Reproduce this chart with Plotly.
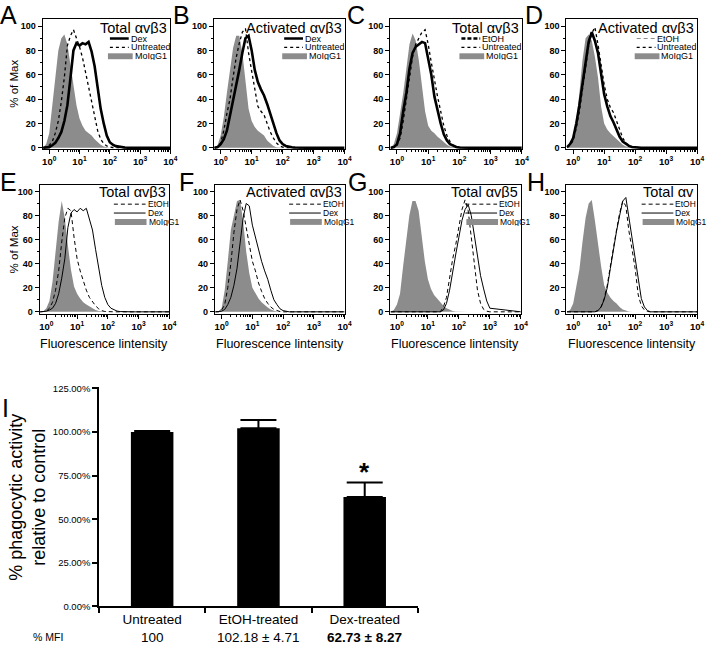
import plotly.graph_objects as go

W, H = 712, 646
FONT = "Liberation Sans, Arial, Helvetica, sans-serif"

# ---------------- data (log10 fluorescence grid, % of max) ----------------
LOG_GRID = [-0.2, -0.1, 0.0, 0.1, 0.2, 0.3, 0.4, 0.5, 0.6, 0.7,
            0.8, 0.9, 1.0, 1.1, 1.2, 1.3, 1.4, 1.5, 1.6, 1.7,
            1.8, 1.9, 2.0, 2.1, 2.2, 2.3, 2.4, 2.5, 2.6, 2.7,
            2.8, 2.9, 3.0, 4.0]

A_GRAY = [0, 3, 12, 35, 62, 80, 90, 93, 85, 68,
          52, 35, 24, 18, 14, 12, 10, 7, 4.5, 2.5,
          1, 0.3, 0, 0, 0, 0, 0, 0, 0, 0, 0, 0, 0, 0]
A_UNTR = [0, 0.5, 2, 5, 12, 22, 38, 58, 84, 92,
          97, 90, 83, 74, 62, 48, 36, 24, 14, 7,
          3.5, 1.5, 0.5, 0.2, 0, 0, 0, 0, 0, 0, 0, 0, 0, 0]
A_DEX = [0, 0, 0.5, 2, 4, 8, 13, 22, 35, 57,
         80, 86, 84, 86, 85, 87, 79, 67, 48, 32,
         20, 10, 4.5, 2.5, 1.3, 0.8, 0.4, 0.2, 0, 0, 0, 0, 0, 0]

B_GRAY = [0, 2, 10, 25, 45, 65, 82, 92, 92, 78,
          52, 32, 22, 17, 14, 12, 10, 6, 3.5, 1.5,
          0.5, 0.2, 0, 0, 0, 0, 0, 0, 0, 0, 0, 0, 0, 0]
B_UNTR = [0, 0.5, 4, 14, 28, 40, 58, 74, 86, 95,
          98, 78, 63, 47, 34, 30, 27, 20, 13, 8,
          4, 1.5, 0.5, 0.2, 0, 0, 0, 0, 0, 0, 0, 0, 0, 0]
B_DEX = [0, 0.5, 3, 7, 14, 26, 40, 52, 64, 78,
         90, 92, 80, 64, 54, 48, 43, 36, 28, 19,
         12, 6, 3, 1.5, 0.8, 0.4, 0.2, 0, 0, 0, 0, 0, 0, 0]

C_GRAY = [0, 3, 12, 28, 45, 65, 85, 94, 88, 72,
          52, 30, 18, 14, 12, 9, 7, 4.5, 2.5, 1,
          0.4, 0.1, 0, 0, 0, 0, 0, 0, 0, 0, 0, 0, 0, 0]
C_ETOH = [0, 0.5, 3, 12, 30, 45, 65, 78, 83, 85,
          87, 86, 74, 60, 42, 30, 20, 11, 6, 3,
          1.5, 0.6, 0.2, 0, 0, 0, 0, 0, 0, 0, 0, 0, 0, 0]
C_UNTR = [0, 0.3, 2, 8, 22, 40, 58, 75, 85, 90,
          95, 97, 85, 70, 55, 42, 30, 18, 10, 5,
          2, 0.8, 0.3, 0, 0, 0, 0, 0, 0, 0, 0, 0, 0, 0]

D_GRAY = [0, 2, 8, 22, 45, 72, 90, 93, 88, 75,
          58, 34, 20, 15, 12, 9.5, 7, 4.5, 2.5, 1,
          0.4, 0.1, 0, 0, 0, 0, 0, 0, 0, 0, 0, 0, 0, 0]
D_ETOH = [0.5, 3, 8, 20, 35, 52, 72, 87, 95, 88,
          78, 60, 44, 34, 26, 21, 15, 9, 5, 3,
          1.5, 0.6, 0.2, 0, 0, 0, 0, 0, 0, 0, 0, 0, 0, 0]
D_UNTR = [0.3, 2, 6, 16, 30, 48, 68, 84, 94, 99,
          85, 68, 52, 40, 33, 29, 22, 14, 8, 4,
          1.5, 0.5, 0.2, 0, 0, 0, 0, 0, 0, 0, 0, 0, 0, 0]

E_GRAY = [0, 0.5, 3, 9, 25, 50, 75, 92, 78, 55,
          35, 21, 15, 11, 8, 6, 4.5, 3, 1.5, 0.7,
          0.3, 0, 0, 0, 0, 0, 0, 0, 0, 0, 0, 0, 0, 0]
E_ETOH = [0, 0, 0.5, 3, 8, 18, 34, 58, 78, 86,
          84, 62, 44, 34, 25, 18, 12, 8, 5, 2.5,
          1, 0.3, 0, 0, 0, 0, 0, 0, 0, 0, 0, 0, 0, 0]
E_DEX = [0, 0, 0.5, 1.5, 3, 7, 15, 28, 44, 70,
         82, 85, 83, 86, 84, 86, 78, 68, 52, 36,
         22, 12, 6, 3, 1.5, 0.6, 0.2, 0, 0, 0, 0, 0, 0, 0]

F_GRAY = [0, 0.5, 3, 18, 42, 68, 80, 92, 93, 75,
          50, 32, 20, 15, 11, 8, 5.5, 3.5, 2, 0.8,
          0.3, 0, 0, 0, 0, 0, 0, 0, 0, 0, 0, 0, 0, 0]
F_ETOH = [0, 0, 1.5, 6, 20, 40, 66, 85, 93, 84,
          70, 55, 42, 34, 24, 17, 11, 7, 4, 2,
          0.8, 0.2, 0, 0, 0, 0, 0, 0, 0, 0, 0, 0, 0, 0]
F_DEX = [0, 0, 0.5, 2, 6, 12, 22, 36, 58, 78,
         90, 88, 72, 62, 50, 42, 34, 27, 18, 10,
         6, 2.5, 1, 0.3, 0, 0, 0, 0, 0, 0, 0, 0, 0, 0]

G_GRAY = [0, 1.5, 6, 15, 38, 58, 80, 92, 92, 84,
          64, 42, 27, 19, 14, 11, 8.5, 5, 3, 1.5,
          0.6, 0.2, 0, 0, 0, 0, 0, 0, 0, 0, 0, 0, 0, 0]
G_ETOH = [0, 0, 0, 0, 0, 0, 0, 0, 0, 0,
          0, 0, 0, 0, 0, 0, 0, 4, 12, 28,
          44, 56, 70, 85, 93, 84, 62, 38, 18, 7,
          2, 0.5, 0, 0]
G_DEX = [0, 0, 0, 0, 0, 0, 0, 0, 0, 0,
         0, 0, 0, 0, 0, 0, 0, 1.5, 7, 18,
         35, 48, 62, 76, 85, 89, 80, 64, 46, 30,
         19, 9, 3, 0]

H_GRAY = [0, 1.5, 7, 20, 35, 58, 78, 90, 93, 76,
          55, 38, 22, 16, 12, 9, 7, 4, 2, 0.8,
          0.2, 0, 0, 0, 0, 0, 0, 0, 0, 0, 0, 0, 0, 0]
H_ETOH = [0, 0, 0, 0, 0, 0, 0, 0, 0, 0,
          1, 4, 11, 22, 38, 54, 68, 82, 92, 88,
          67, 52, 36, 14, 5, 1.5, 0.3, 0, 0, 0,
          0, 0, 0, 0]
H_DEX = [0, 0, 0, 0, 0, 0, 0, 0, 0, 0,
         1, 4, 10, 20, 36, 52, 67, 80, 92, 95,
         78, 58, 41, 24, 11, 4, 1, 0, 0, 0,
         0, 0, 0, 0]

DECADES = [1, 10, 100, 1000, 10000]
DECADE_LABELS = ["10<sup>0</sup>", "10<sup>1</sup>", "10<sup>2</sup>",
                 "10<sup>3</sup>", "10<sup>4</sup>"]
PCT_TICKS = [0, 20, 40, 60, 80, 100]

TREATMENTS = ["Untreated", "EtOH-treated", "Dex-treated"]
PHAGO = [100, 102.18, 62.73]
PHAGO_ERR = [0.6, 4.71, 8.27]
MFI_TEXT = ["100", "102.18 ± 4.71", "<b>62.73 ± 8.27</b>"]
BAR_TICKS = [0, 25, 50, 75, 100, 125]
BAR_TICK_TEXT = ["0.00%", "25.00%", "50.00%", "75.00%", "100.00%", "125.00%"]

# ---------------- helpers ----------------
def px(x):
    return x / W

def py(y):
    return 1 - y / H

TRACE_STYLE = {
    "thick": dict(color="black", width=2.6),
    "dot": dict(color="black", width=1.3, dash="dot"),
    "thin": dict(color="black", width=1),
    "dash": dict(color="black", width=1, dash="4px,3px"),
}
LEG_STYLE = {
    "thick": dict(color="black", width=2.5),
    "thickdash": dict(color="black", width=2.5, dash="4px,2px"),
    "dot": dict(color="black", width=1.2, dash="dot"),
    "graydash": dict(color="#8c8c8c", width=1.2, dash="4px,3px"),
    "dash": dict(color="black", width=1, dash="4px,3px"),
    "thin": dict(color="black", width=1),
}
GRAY = "#8c8c8c"

TOP = (15, 147)
BOT = (184, 314)
PANELS = [
    ("A", (43, 172), TOP, "Total αvβ3",
     [(A_GRAY, "gray"), (A_UNTR, "dot"), (A_DEX, "thick")],
     [("Dex", "thick"), ("Untreated", "dot"), ("MoIgG1", "rect")]),
    ("B", (216, 348), TOP, "Activated αvβ3",
     [(B_GRAY, "gray"), (B_UNTR, "dot"), (B_DEX, "thick")],
     [("Dex", "thick"), ("Untreated", "dot"), ("MoIgG1", "rect")]),
    ("C", (394, 527), TOP, "Total αvβ3",
     [(C_GRAY, "gray"), (C_UNTR, "dot"), (C_ETOH, "thick")],
     [("EtOH", "thickdash"), ("Untreated", "dot"), ("MoIgG1", "rect")]),
    ("D", (572, 704), TOP, "Activated αvβ3",
     [(D_GRAY, "gray"), (D_UNTR, "dot"), (D_ETOH, "thick")],
     [("EtOH", "graydash"), ("Untreated", "dot"), ("MoIgG1", "rect")]),
    ("E", (40, 171), BOT, "Total αvβ3",
     [(E_GRAY, "gray"), (E_ETOH, "dash"), (E_DEX, "thin")],
     [("EtOH", "dash"), ("Dex", "thin"), ("MoIgG1", "rect")]),
    ("F", (217, 348), BOT, "Activated αvβ3",
     [(F_GRAY, "gray"), (F_ETOH, "dash"), (F_DEX, "thin")],
     [("EtOH", "dash"), ("Dex", "thin"), ("MoIgG1", "rect")]),
    ("G", (394, 526), BOT, "Total αvβ5",
     [(G_GRAY, "gray"), (G_ETOH, "dash"), (G_DEX, "thin")],
     [("EtOH", "dash"), ("Dex", "thin"), ("MoIgG1", "rect")]),
    ("H", (572, 704), BOT, "Total αv",
     [(H_GRAY, "gray"), (H_ETOH, "dash"), (H_DEX, "thin")],
     [("EtOH", "dash"), ("Dex", "thin"), ("MoIgG1", "rect")]),
]
LETTER_POS = {"A": (9, 11), "B": (183, 11), "C": (360, 11), "D": (539, 11),
              "E": (9, 181), "F": (188, 181), "G": (361, 181), "H": (541, 181)}

fig = go.Figure()
layout = dict(width=W, height=H, margin=dict(l=0, r=0, t=0, b=0),
              paper_bgcolor="white", plot_bgcolor="white", showlegend=False,
              font=dict(family=FONT, color="black"))
annotations = []
shapes = []
xs = [10 ** v for v in LOG_GRID]
minor_x = [m * 10 ** d for d in range(4) for m in range(2, 10)]

for i, (letter, (xl, xr), (yt, yb), title, traces, legend) in enumerate(PANELS, start=1):
    xa = "x" if i == 1 else f"x{i}"
    ya = "y" if i == 1 else f"y{i}"
    for vals, style in traces:
        if style == "gray":
            fig.add_trace(go.Scatter(x=xs, y=vals, xaxis=xa, yaxis=ya, mode="lines",
                                     line=dict(width=0, color=GRAY), fill="tozeroy",
                                     fillcolor=GRAY, hoverinfo="skip"))
        else:
            fig.add_trace(go.Scatter(x=xs, y=vals, xaxis=xa, yaxis=ya, mode="lines",
                                     line=TRACE_STYLE[style], hoverinfo="skip"))
    top_row = yt == TOP[0]
    yr = [-1, 106] if top_row else [-1.5, 105]
    layout["xaxis" if i == 1 else f"xaxis{i}"] = dict(
        domain=[px(xl), px(xr)], anchor=ya, type="log", range=[-0.22, 4.0],
        tickmode="array", tickvals=DECADES, ticktext=DECADE_LABELS,
        ticks="outside", ticklen=4, tickwidth=1, tickcolor="black",
        tickfont=dict(size=9.5, family=FONT, weight="bold"),
        showline=True, linecolor="black", linewidth=1, mirror=True,
        showgrid=False, zeroline=False,
        minor=dict(tickmode="array", tickvals=minor_x, ticks="outside",
                   ticklen=2, tickcolor="black", showgrid=False))
    layout["yaxis" if i == 1 else f"yaxis{i}"] = dict(
        domain=[py(yb), py(yt)], anchor=xa, range=yr,
        tickmode="array", tickvals=PCT_TICKS,
        ticks="outside", ticklen=4, tickwidth=1, tickcolor="black",
        tickfont=dict(size=9, family=FONT, weight="bold"),
        showline=True, linecolor="black", linewidth=1, mirror=True,
        showgrid=False, zeroline=False,
        minor=dict(tickmode="linear", tick0=0, dtick=10, ticks="outside",
                   ticklen=2, tickcolor="black", showgrid=False))
    # panel title
    annotations.append(dict(text=title, x=px(xr - 1), y=py(yt + (9 if top_row else 7)),
                            xref="paper", yref="paper", xanchor="right", yanchor="middle",
                            showarrow=False, height=12, font=dict(size=14.5, family=FONT)))
    # legend
    if top_row:
        rows = [yt + 20, yt + 29, yt + 38]
        lx0, lx1, tx, rx0, rx1, rtx, fs = xr - 61, xr - 42, xr - 41, xr - 63, xr - 38, xr - 37, 9
    else:
        rows = [yt + 19, yt + 28, yt + 37]
        lx0, lx1, tx, rx0, rx1, rtx, fs = xr - 56, xr - 24, xr - 23, xr - 55, xr - 23, xr - 22, 8.5
    for (name, st), ry in zip(legend, rows):
        if st == "rect":
            shapes.append(dict(type="rect", xref="paper", yref="paper",
                               x0=px(rx0), x1=px(rx1), y0=py(ry + 3), y1=py(ry - 3),
                               fillcolor=GRAY, line=dict(width=0)))
            t_x = rtx
        else:
            shapes.append(dict(type="line", xref="paper", yref="paper",
                               x0=px(lx0), x1=px(lx1), y0=py(ry), y1=py(ry),
                               line=LEG_STYLE[st]))
            t_x = tx
        annotations.append(dict(text=name, x=px(t_x), y=py(ry), xref="paper", yref="paper",
                                xanchor="left", yanchor="middle", showarrow=False,
                                height=8, borderpad=0,
                                font=dict(size=fs, family=FONT)))
    # letter
    lx, ly = LETTER_POS[letter]
    annotations.append(dict(text=letter, x=px(lx), y=py(ly), xref="paper", yref="paper",
                            xanchor="center", yanchor="middle", showarrow=False,
                            font=dict(size=25, family=FONT)))
    if xl < 60:
        annotations.append(dict(text="% of Max", x=px(14), y=py((yt + yb) / 2),
                                xref="paper", yref="paper", textangle=-90,
                                xanchor="center", yanchor="middle", showarrow=False,
                                font=dict(size=11.5, family=FONT)))
    if not top_row:
        annotations.append(dict(text="Fluorescence lintensity", x=px((xl + xr) / 2), y=py(345),
                                xref="paper", yref="paper", xanchor="center", yanchor="middle",
                                showarrow=False, font=dict(size=12.5, family=FONT)))

# ---------------- bar chart (I) ----------------
fig.add_trace(go.Bar(x=TREATMENTS, y=PHAGO, xaxis="x9", yaxis="y9", width=0.4,
                     marker=dict(color="black", line=dict(width=0)),
                     error_y=dict(type="data", array=PHAGO_ERR, arrayminus=[0, 0, 0],
                                  symmetric=False, color="black", thickness=2, width=18),
                     hoverinfo="skip"))
layout["xaxis9"] = dict(domain=[px(100), px(422)], anchor="y9", type="category",
                        range=[-0.5, 2.5], tickson="boundaries", ticks="outside",
                        ticklen=5, tickwidth=1.5, tickcolor="black",
                        tickfont=dict(size=13.5, family=FONT),
                        showline=True, linecolor="black", linewidth=1.5,
                        showgrid=False, zeroline=False)
layout["yaxis9"] = dict(domain=[py(611), py(388)], anchor="x9", range=[0, 126],
                        tickmode="array", tickvals=BAR_TICKS, ticktext=BAR_TICK_TEXT,
                        ticks="outside", ticklen=5, tickwidth=1.5,
                        tickcolor="black", tickfont=dict(size=9.5, family=FONT),
                        showline=True, linecolor="black", linewidth=1.5,
                        showgrid=False, zeroline=False)
annotations.append(dict(text="<b>*</b>", x=TREATMENTS[2], y=PHAGO[2] + PHAGO_ERR[2],
                        xref="x9", yref="y9", xanchor="center", yanchor="bottom",
                        yshift=-6, showarrow=False, font=dict(size=26, family=FONT)))
annotations.append(dict(text="% phagocytic activity<br>relative to control", x=px(27),
                        y=py(500), xref="paper", yref="paper", textangle=-90,
                        xanchor="center", yanchor="middle", showarrow=False,
                        font=dict(size=18, family=FONT)))
annotations.append(dict(text="% MFI", x=px(48), y=py(642), xref="paper", yref="paper",
                        xanchor="center", yanchor="middle", showarrow=False,
                        font=dict(size=10.5, family=FONT)))
for t, m in zip(TREATMENTS, MFI_TEXT):
    annotations.append(dict(text=m, x=t, y=py(642), xref="x9", yref="paper",
                            xanchor="center", yanchor="middle", showarrow=False,
                            font=dict(size=13.5, family=FONT)))
annotations.append(dict(text="I", x=px(6), y=py(410), xref="paper", yref="paper",
                        xanchor="center", yanchor="middle", showarrow=False,
                        font=dict(size=25, family=FONT)))

layout["annotations"] = annotations
layout["shapes"] = shapes
fig.update_layout(**layout)
fig.write_html("out.html", config={"displayModeBar": False},
               post_script="document.body.style.margin='0';document.body.style.overflow='hidden';")
